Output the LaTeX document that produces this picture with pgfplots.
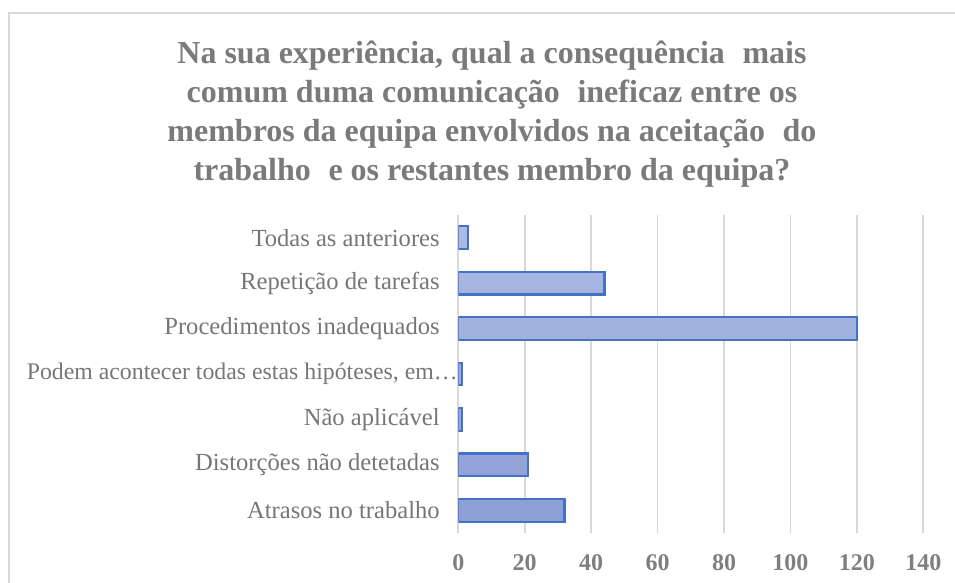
\documentclass[border=0pt]{standalone}
\usepackage{fontspec}
\setmainfont{Liberation Serif}
\usepackage{pgfplots}
\pgfplotsset{compat=1.18}
\definecolor{txtgray}{HTML}{767676}
\definecolor{titlegray}{HTML}{7A7A7A}
\definecolor{tickgray}{HTML}{7F7F7F}
\definecolor{gridgray}{HTML}{D9D9D9}
\definecolor{barline}{HTML}{4472C4}
\definecolor{bartop}{HTML}{ADBBE3}
\definecolor{barbot}{HTML}{8C9FD5}
\begin{document}
\begin{tikzpicture}
\path[use as bounding box] (0,0) rectangle (477.5pt,291.5pt);
\draw[gridgray,line width=1pt] (4.5pt,0) -- (4.5pt,285pt) -- (477.5pt,285pt);
\node[align=center,text=titlegray,font=\bfseries\fontsize{16}{19.5}\selectfont]
  at (246pt,234.5pt) {Na sua experiência, qual a consequência\hspace{0.3em} mais\\
  comum duma comunicação\hspace{0.3em} ineficaz entre os\\
  membros da equipa envolvidos na aceitação\hspace{0.3em} do\\
  trabalho\hspace{0.3em} e os restantes membro da equipa?};
\begin{axis}[
 at={(229.15pt,25pt)},anchor=south west,
 scale only axis,width=232.5pt,height=159pt,
 xbar,bar width=11.35pt,
 xmin=0,xmax=140,ymin=-0.5,ymax=6.5,
 xtick={0,20,...,140},
 ytick={0,...,6},
 yticklabels={Atrasos no trabalho,Distorções não detetadas,Não aplicável,
   {\fontsize{11.9}{12}\selectfont Podem acontecer todas estas hipóteses, em…\kern-9pt},
   Procedimentos inadequados,Repetição de tarefas,Todas as anteriores},
 axis line style={draw=none},
 tick style={draw=none},
 xmajorgrids,major grid style={draw=gridgray,line width=0.8pt},
 xticklabel style={font=\bfseries\fontsize{12}{12}\selectfont,text=tickgray,yshift=-7pt},
 yticklabel style={font=\fontsize{12.3}{12}\selectfont,text=txtgray,anchor=east,xshift=-1.5pt},
 /pgf/number format/assume math mode=true,
]
\addplot[draw=barline,line width=1.1pt,top color=bartop,bottom color=barbot]
 coordinates {(32,0) (21,1) (1,2) (1,3) (120,4) (44,5) (3,6)};
\end{axis}
\end{tikzpicture}
\end{document}
